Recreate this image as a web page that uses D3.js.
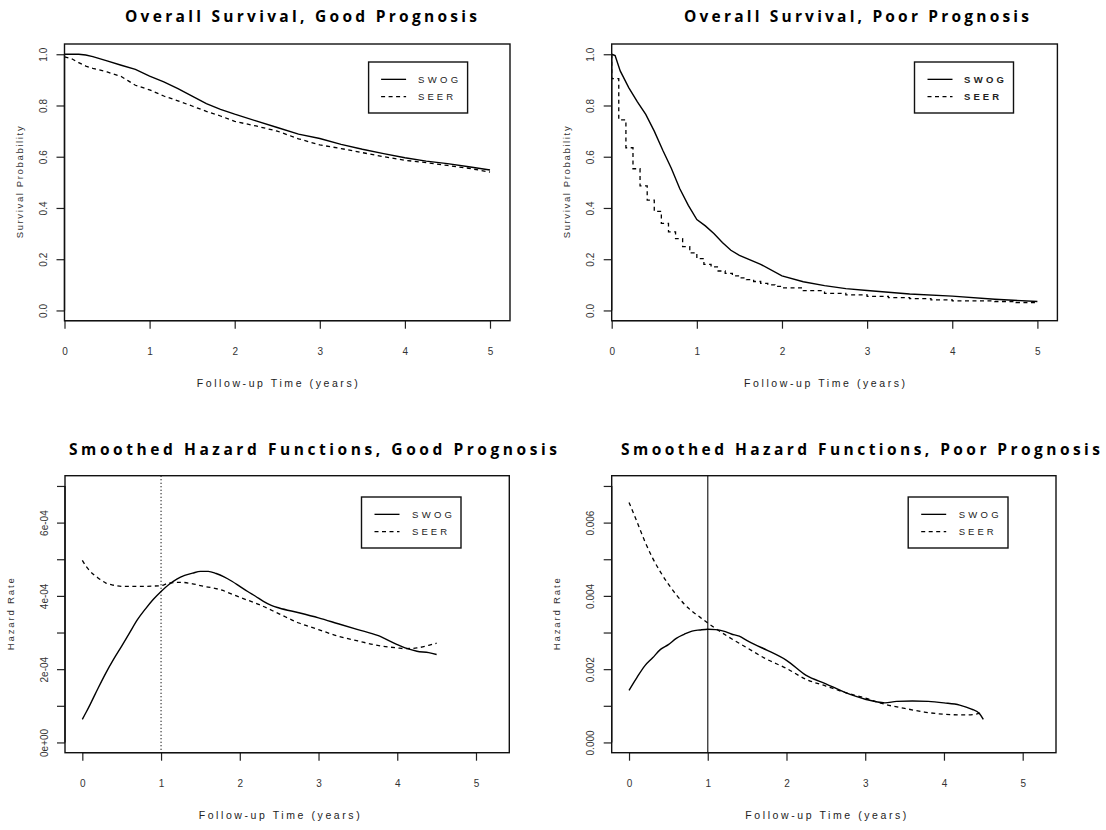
<!DOCTYPE html>
<html>
<head>
<meta charset="utf-8">
<script src="https://cdnjs.cloudflare.com/ajax/libs/d3/7.8.5/d3.min.js"></script>
<style>
  body { margin: 0; background: #fff; }
  svg { display: block; }
</style>
</head>
<body>
<script>

/* Overall survival, good prognosis (years, probability) */
var goodSwogTime = [0, 0.167, 0.25, 0.333, 0.5, 0.667, 0.833, 1.0, 1.167, 1.333, 1.5, 1.667, 1.833, 2.0, 2.25, 2.5, 2.75, 3.0, 3.25, 3.5, 3.75, 4.0, 4.25, 4.5, 4.75, 5.0];
var goodSwogSurv = [1.0, 1.0, 0.997, 0.991, 0.974, 0.957, 0.941, 0.915, 0.892, 0.866, 0.837, 0.807, 0.785, 0.766, 0.74, 0.714, 0.688, 0.671, 0.648, 0.629, 0.612, 0.596, 0.583, 0.573, 0.561, 0.548];
var goodSeerTime = [0, 0.083, 0.167, 0.25, 0.333, 0.5, 0.667, 0.75, 0.833, 1.0, 1.167, 1.333, 1.5, 1.667, 1.833, 2.0, 2.25, 2.5, 2.75, 3.0, 3.25, 3.5, 3.75, 4.0, 4.25, 4.5, 4.75, 5.0];
var goodSeerSurv = [0.99, 0.983, 0.967, 0.954, 0.945, 0.931, 0.913, 0.896, 0.879, 0.861, 0.837, 0.818, 0.798, 0.777, 0.759, 0.738, 0.72, 0.70, 0.67, 0.646, 0.632, 0.616, 0.60, 0.586, 0.577, 0.566, 0.555, 0.54];

/* Overall survival, poor prognosis */
var poorSwogTime = [0, 0.04, 0.1, 0.2, 0.3, 0.4, 0.5, 0.6, 0.7, 0.8, 0.9, 1.0, 1.1, 1.2, 1.3, 1.4, 1.5, 1.75, 2.0, 2.25, 2.5, 2.75, 3.0, 3.5, 4.0, 4.5, 5.0];
var poorSwogSurv = [1.0, 0.995, 0.935, 0.87, 0.815, 0.765, 0.70, 0.625, 0.555, 0.475, 0.41, 0.355, 0.33, 0.30, 0.265, 0.235, 0.215, 0.18, 0.135, 0.112, 0.097, 0.085, 0.078, 0.064, 0.056, 0.044, 0.035];
var poorSeerTime = [0, 0, 0.083, 0.167, 0.25, 0.333, 0.417, 0.5, 0.583, 0.667, 0.75, 0.833, 0.917, 1.0, 1.083, 1.167, 1.25, 1.333, 1.417, 1.5, 1.583, 1.667, 1.75, 1.833, 1.917, 2.0, 2.25, 2.5, 2.75, 3.0, 3.25, 3.5, 3.75, 4.0, 4.5, 4.75, 5.0];
var poorSeerSurv = [1.0, 0.905, 0.744, 0.635, 0.553, 0.486, 0.431, 0.387, 0.34, 0.307, 0.28, 0.249, 0.225, 0.202, 0.18, 0.17, 0.154, 0.145, 0.135, 0.127, 0.12, 0.113, 0.106, 0.10, 0.094, 0.088, 0.077, 0.067, 0.061, 0.055, 0.05, 0.046, 0.041, 0.037, 0.035, 0.031, 0.029];

/* Smoothed hazard, good prognosis */
var hazGoodSwogTime = [0, 0.05, 0.1, 0.2, 0.3, 0.4, 0.5, 0.6, 0.7, 0.8, 0.9, 1.0, 1.1, 1.2, 1.3, 1.4, 1.5, 1.6, 1.7, 1.8, 1.9, 2.0, 2.1, 2.2, 2.3, 2.4, 2.5, 2.75, 3.0, 3.25, 3.5, 3.75, 4.0, 4.1, 4.25, 4.4, 4.5];
var hazGoodSwog = [0.63e-4, 0.83e-4, 1.04e-4, 1.48e-4, 1.90e-4, 2.28e-4, 2.63e-4, 2.99e-4, 3.35e-4, 3.64e-4, 3.90e-4, 4.12e-4, 4.31e-4, 4.46e-4, 4.56e-4, 4.62e-4, 4.67e-4, 4.67e-4, 4.61e-4, 4.52e-4, 4.40e-4, 4.26e-4, 4.12e-4, 3.99e-4, 3.85e-4, 3.74e-4, 3.67e-4, 3.54e-4, 3.40e-4, 3.24e-4, 3.08e-4, 2.92e-4, 2.67e-4, 2.58e-4, 2.49e-4, 2.45e-4, 2.40e-4];
var hazGoodSeerTime = [0, 0.05, 0.1, 0.2, 0.3, 0.4, 0.5, 0.75, 1.0, 1.1, 1.25, 1.4, 1.5, 1.75, 2.0, 2.25, 2.5, 2.75, 3.0, 3.25, 3.5, 3.75, 4.0, 4.1, 4.25, 4.4, 4.5];
var hazGoodSeer = [4.97e-4, 4.80e-4, 4.67e-4, 4.49e-4, 4.35e-4, 4.29e-4, 4.26e-4, 4.26e-4, 4.28e-4, 4.35e-4, 4.37e-4, 4.33e-4, 4.28e-4, 4.17e-4, 3.96e-4, 3.76e-4, 3.51e-4, 3.26e-4, 3.08e-4, 2.90e-4, 2.77e-4, 2.65e-4, 2.58e-4, 2.56e-4, 2.58e-4, 2.65e-4, 2.71e-4];

/* Smoothed hazard, poor prognosis */
var hazPoorSwogTime = [0, 0.05, 0.1, 0.2, 0.3, 0.4, 0.5, 0.6, 0.7, 0.8, 0.9, 1.0, 1.1, 1.2, 1.3, 1.4, 1.5, 1.6, 1.75, 2.0, 2.25, 2.5, 2.75, 3.0, 3.25, 3.4, 3.6, 3.8, 4.0, 4.2, 4.35, 4.45, 4.5];
var hazPoorSwog = [0.00142, 0.00160, 0.00177, 0.00209, 0.00231, 0.00254, 0.00267, 0.00284, 0.00295, 0.00304, 0.00307, 0.00309, 0.00308, 0.00304, 0.00296, 0.00290, 0.00278, 0.00267, 0.00252, 0.00224, 0.00183, 0.00160, 0.00136, 0.00118, 0.00108, 0.00112, 0.00113, 0.00112, 0.00108, 0.00102, 0.00091, 0.00079, 0.00063];
var hazPoorSeerTime = [0, 0.1, 0.2, 0.3, 0.4, 0.5, 0.6, 0.7, 0.8, 0.9, 1.0, 1.1, 1.25, 1.5, 1.75, 2.0, 2.25, 2.5, 2.75, 3.0, 3.25, 3.5, 3.75, 4.0, 4.25, 4.4, 4.5];
var hazPoorSeer = [0.00655, 0.00603, 0.00549, 0.00503, 0.00465, 0.00432, 0.00403, 0.00378, 0.00358, 0.00342, 0.00326, 0.00311, 0.00290, 0.00258, 0.00227, 0.00202, 0.00172, 0.00154, 0.00136, 0.00121, 0.00104, 0.00093, 0.00083, 0.00077, 0.00075, 0.00077, 0.00083];

/* axis ticks */
var timeTicks = [0, 1, 2, 3, 4, 5];
var survTicks = [0, 0.2, 0.4, 0.6, 0.8, 1.0];
var survLabels = ["0.0", "0.2", "0.4", "0.6", "0.8", "1.0"];
var hazGoodTicks = [0, 1e-4, 2e-4, 3e-4, 4e-4, 5e-4, 6e-4, 7e-4];
var hazGoodLabels = ["0e+00", "", "2e-04", "", "4e-04", "", "6e-04", ""];
var hazPoorTicks = [0, 0.001, 0.002, 0.003, 0.004, 0.005, 0.006, 0.007];
var hazPoorLabels = ["0.000", "", "0.002", "", "0.004", "", "0.006", ""];

var seriesNames = ["SWOG", "SEER"];
var DASH = "4,3.5";

function pairs(t, v) {
    return t.map(function(d, i) { return [d, v[i]]; });
}

var svg = d3.select("body").append("svg")
    .attr("width", 1106)
    .attr("height", 830);

/*
 * one entry per plot; seerStep marks the monthly Kaplan-Meier steps
 */
var panels = [
    { title: "Overall Survival, Good Prognosis", tx: 125, tw: 352, ty: 22,
      left: 64.5, top: 44, w: 445.5, h: 276.7,
      xDom: [0, 5.235], yDom: [-0.04, 1.04],
      yTicks: survTicks, yLabels: survLabels, yTitle: "Survival Probability", yTitleOff: 44.5, yTitleLen: 112,
      swog: pairs(goodSwogTime, goodSwogSurv), seer: pairs(goodSeerTime, goodSeerSurv), seerStep: false, smooth: false,
      leg: { x: 368.6, w: 99, y: 62, h: 51, lx: 12.5, tx: 49.5 }, legBold: false },
    { title: "Overall Survival, Poor Prognosis", tx: 684, tw: 345, ty: 22,
      left: 611.7, top: 44, w: 445.7, h: 276.7,
      xDom: [0, 5.235], yDom: [-0.04, 1.04],
      yTicks: survTicks, yLabels: survLabels, yTitle: "Survival Probability", yTitleOff: 45.5, yTitleLen: 112,
      swog: pairs(poorSwogTime, poorSwogSurv), seer: pairs(poorSeerTime, poorSeerSurv), seerStep: true, smooth: false,
      leg: { x: 914.5, w: 99, y: 62, h: 51, lx: 13, tx: 49.5 }, legBold: true },
    { title: "Smoothed Hazard Functions, Good Prognosis", tx: 69, tw: 488, ty: 455,
      left: 65, top: 475.7, w: 444.3, h: 277,
      xDom: [-0.22, 5.423], yDom: [-0.28e-4, 7.28e-4],
      yTicks: hazGoodTicks, yLabels: hazGoodLabels, yTitle: "Hazard Rate", yTitleOff: 54.5, yTitleLen: 72,
      swog: pairs(hazGoodSwogTime, hazGoodSwog), seer: pairs(hazGoodSeerTime, hazGoodSeer), seerStep: false, smooth: true,
      vline: "1,2.5", vcolor: "#000",
      leg: { x: 361.5, w: 99.5, y: 497, h: 51, lx: 13, tx: 50.5 }, legBold: false },
    { title: "Smoothed Hazard Functions, Poor Prognosis", tx: 621, tw: 479, ty: 455,
      left: 611.7, top: 475.7, w: 444.3, h: 277,
      xDom: [-0.22, 5.423], yDom: [-0.28e-3, 7.28e-3],
      yTicks: hazPoorTicks, yLabels: hazPoorLabels, yTitle: "Hazard Rate", yTitleOff: 54.7, yTitleLen: 72,
      swog: pairs(hazPoorSwogTime, hazPoorSwog), seer: pairs(hazPoorSeerTime, hazPoorSeer), seerStep: false, smooth: true,
      vline: null, vcolor: "#333",
      leg: { x: 908.2, w: 99.8, y: 497, h: 51, lx: 13, tx: 50.5 }, legBold: false }
];

panels.forEach(drawPanel);

function drawPanel(p) {
    var g = svg.append("g");
    var x = d3.scaleLinear().domain(p.xDom).range([p.left, p.left + p.w]);
    var y = d3.scaleLinear().domain(p.yDom).range([p.top + p.h, p.top]);
    var bottom = p.top + p.h;

    // title
    g.append("text")
        .attr("x", p.tx).attr("y", p.ty)
        .attr("textLength", p.tw).attr("lengthAdjust", "spacing")
        .style("font-family", "'Open Sans', sans-serif")
        .style("font-weight", "bold")
        .style("font-size", "15.5px")
        .style("fill", "#000")
        .text(p.title);

    // x axis
    var xa = g.append("g")
        .attr("transform", "translate(0," + bottom + ")")
        .call(d3.axisBottom(x).tickValues(timeTicks).tickSize(8).tickSizeOuter(0).tickPadding(19)
            .tickFormat(d3.format("d")));
    xa.select(".domain").remove();
    xa.selectAll(".tick line").attr("stroke", "#222").attr("stroke-width", 1.2);
    xa.selectAll("text")
        .style("font-family", "'Liberation Sans', Arial, sans-serif")
        .style("font-size", "10px")
        .style("fill", "#333");
    g.append("line")
        .attr("x1", x(timeTicks[0])).attr("x2", x(timeTicks[timeTicks.length - 1]))
        .attr("y1", bottom).attr("y2", bottom)
        .attr("stroke", "#000").attr("stroke-width", 1.3);

    // y axis, labels turned like R's las=0
    var ya = g.append("g")
        .attr("transform", "translate(" + p.left + ",0)")
        .call(d3.axisLeft(y).tickValues(p.yTicks).tickSize(8).tickSizeOuter(0)
            .tickFormat(function(d, i) { return p.yLabels[i]; }));
    ya.select(".domain").remove();
    ya.selectAll(".tick line").attr("stroke", "#222").attr("stroke-width", 1.2);
    ya.selectAll("text")
        .attr("x", null).attr("dy", "0.35em")
        .attr("transform", "translate(-21,0) rotate(-90)")
        .attr("text-anchor", "middle")
        .style("font-family", "'Liberation Sans', Arial, sans-serif")
        .style("font-size", "10px")
        .style("fill", "#333");
    g.append("line")
        .attr("x1", p.left).attr("x2", p.left)
        .attr("y1", y(p.yTicks[0])).attr("y2", y(p.yTicks[p.yTicks.length - 1]))
        .attr("stroke", "#000").attr("stroke-width", 1.3);

    // axis titles
    g.append("text")
        .attr("x", x(2.5)).attr("y", bottom + 66)
        .attr("text-anchor", "middle")
        .attr("textLength", 161).attr("lengthAdjust", "spacing")
        .style("font-family", "'Liberation Sans', Arial, sans-serif")
        .style("font-size", "10.5px")
        .style("fill", "#222")
        .text("Follow-up Time (years)");

    g.append("text")
        .attr("transform", "translate(" + (p.left - p.yTitleOff) + "," + (p.top + p.h / 2) + ") rotate(-90)")
        .attr("text-anchor", "middle")
        .attr("dy", "0.35em")
        .attr("textLength", p.yTitleLen).attr("lengthAdjust", "spacing")
        .style("font-family", "'Liberation Sans', Arial, sans-serif")
        .style("font-size", "9.5px")
        .style("fill", "#333")
        .text(p.yTitle);

    // reference line at one year
    if (p.vcolor) {
        g.append("line")
            .attr("x1", x(1)).attr("x2", x(1))
            .attr("y1", p.top).attr("y2", bottom)
            .attr("stroke", p.vcolor)
            .attr("stroke-width", p.vline ? 1.2 : 1.3)
            .attr("stroke-dasharray", p.vline);
    }

    // curves
    var swogLine = d3.line()
        .x(function(d) { return x(d[0]); })
        .y(function(d) { return y(d[1]); })
        .curve(p.smooth ? d3.curveMonotoneX : d3.curveLinear);
    var seerLine = d3.line()
        .x(function(d) { return x(d[0]); })
        .y(function(d) { return y(d[1]); })
        .curve(p.seerStep ? d3.curveStepAfter : (p.smooth ? d3.curveMonotoneX : d3.curveLinear));

    g.append("path").datum(p.swog)
        .attr("d", swogLine)
        .attr("fill", "none").attr("stroke", "#000").attr("stroke-width", 1.4);
    g.append("path").datum(p.seer)
        .attr("d", seerLine)
        .attr("fill", "none").attr("stroke", "#000").attr("stroke-width", 1.3)
        .attr("stroke-dasharray", DASH);

    // plot box
    g.append("rect")
        .attr("x", p.left).attr("y", p.top)
        .attr("width", p.w).attr("height", p.h)
        .attr("fill", "none").attr("stroke", "#111").attr("stroke-width", 1.4);

    // legend
    var L = p.leg;
    var lg = g.append("g").attr("transform", "translate(" + L.x + "," + L.y + ")");
    lg.append("rect")
        .attr("width", L.w).attr("height", L.h)
        .attr("fill", "#fff").attr("stroke", "#111").attr("stroke-width", 1.4);
    var rowY = [L.h * 0.34, L.h * 0.68];
    var textLen = [40, 35];
    seriesNames.forEach(function(name, i) {
        lg.append("line")
            .attr("x1", L.lx).attr("x2", L.lx + 25)
            .attr("y1", rowY[i]).attr("y2", rowY[i])
            .attr("stroke", "#000").attr("stroke-width", 1.3)
            .attr("stroke-dasharray", i == 1 ? DASH : null);
        lg.append("text")
            .attr("x", L.tx).attr("y", rowY[i])
            .attr("dy", "0.35em")
            .attr("textLength", textLen[i]).attr("lengthAdjust", "spacing")
            .style("font-family", "'Liberation Sans', Arial, sans-serif")
            .style("font-size", "9.5px")
            .style("font-weight", p.legBold ? "bold" : "normal")
            .style("fill", "#222")
            .text(name);
    });
}

</script>
</body>
</html>
